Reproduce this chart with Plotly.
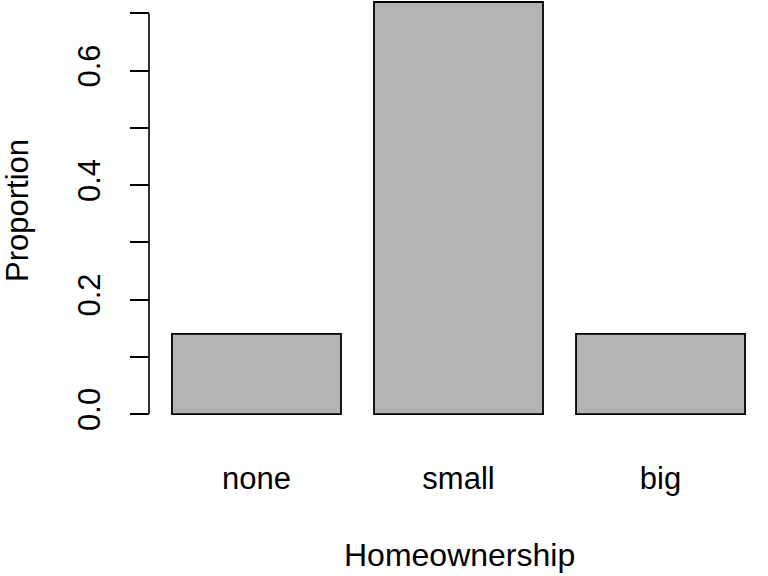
import plotly.graph_objects as go

categories = ["none", "small", "big"]
proportions = [0.14, 0.72, 0.14]
y_tick_vals = [0.0, 0.1, 0.2, 0.3, 0.4, 0.5, 0.6, 0.7]
y_tick_text = ["0.0", "", "0.2", "", "0.4", "", "0.6", ""]
x_title = "Homeownership"
y_title = "Proportion"

W, H = 768, 576
L, R, T, B = 128, 0, 0, 146
FONT = "Liberation Sans, Arial, Helvetica, sans-serif"
FS = 31

fig = go.Figure()
fig.add_trace(go.Bar(
    x=categories, y=proportions,
    marker=dict(color="#B3B3B3", line=dict(color="black", width=1.8)),
    width=0.8366,
    hoverinfo="skip",
))

axis_pos = (149 - L) / (W - L - R)

fig.update_layout(
    width=W, height=H,
    margin=dict(l=L, r=R, t=T, b=B, pad=0),
    paper_bgcolor="white", plot_bgcolor="white",
    showlegend=False,
    font=dict(family=FONT, size=FS, color="black"),
    xaxis=dict(
        type="category", range=[-0.636, 2.532],
        showgrid=False, zeroline=False, showline=False, ticks="",
        tickfont=dict(size=FS), ticklabelstandoff=27,
    ),
    yaxis=dict(
        range=[-0.0279, 0.7235],
        anchor="free", position=axis_pos,
        showgrid=False, zeroline=False, showline=False,
        ticks="outside", ticklen=19, tickwidth=1.6, tickcolor="black",
        tickvals=y_tick_vals, ticktext=y_tick_text, tickangle=-90,
        tickfont=dict(size=FS), ticklabelstandoff=18,
    ),
)

# y axis line spanning first to last tick (R style)
fig.add_shape(type="line", xref="paper", yref="y",
              x0=axis_pos, x1=axis_pos, y0=y_tick_vals[0], y1=y_tick_vals[-1],
              line=dict(color="black", width=1.6))

plot_h = H - T - B
fig.add_annotation(text=x_title, xref="paper", yref="paper",
                   x=(459 - L) / (W - L - R), y=(plot_h - 555 + T) / plot_h,
                   xanchor="center", yanchor="middle", showarrow=False,
                   font=dict(size=FS + 1))
fig.add_annotation(text=y_title, xref="paper", yref="paper",
                   x=(17 - L) / (W - L - R), y=(plot_h - 211 + T) / plot_h,
                   xanchor="center", yanchor="middle", showarrow=False,
                   textangle=-90, font=dict(size=FS))

fig.write_html("out.html", config={"displayModeBar": False},
               post_script="document.body.style.margin='0';")
